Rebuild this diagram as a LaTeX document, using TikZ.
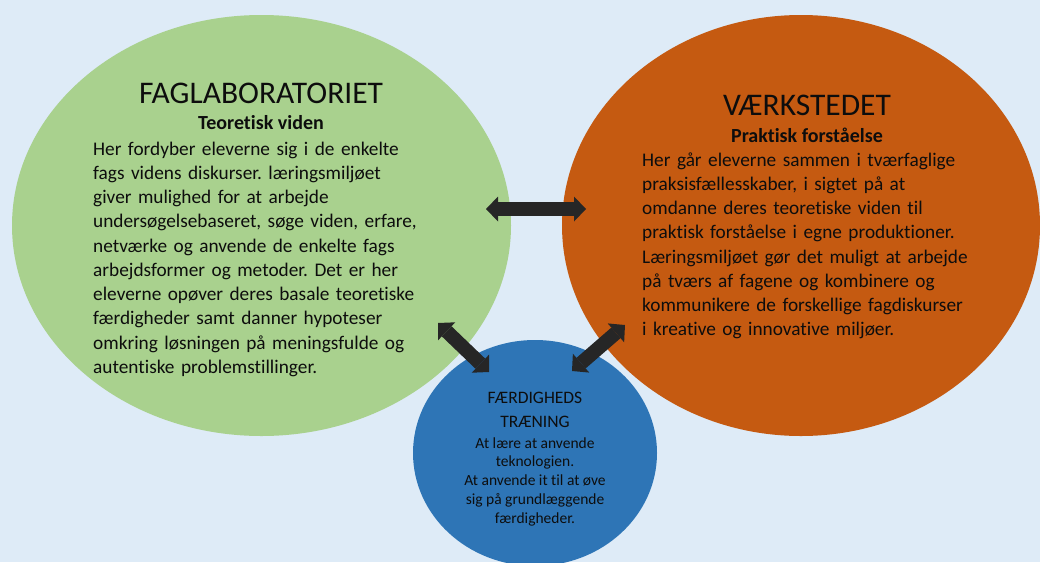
\documentclass[tikz,border=0pt]{standalone}
\usepackage{fontspec}
\setmainfont{Carlito}[Ligatures={NoCommon}]
\frenchspacing
\usetikzlibrary{shapes.geometric,arrows.meta}
\definecolor{bg}{HTML}{DEEBF7}
\definecolor{grn}{HTML}{A9D18E}
\definecolor{org}{HTML}{C55A11}
\definecolor{blu}{HTML}{2E75B6}
\definecolor{arr}{HTML}{262626}
\definecolor{ink}{HTML}{0D0D0D}
\begin{document}
\begin{tikzpicture}[x=1pt,y=-1pt,
  blob/.style={ellipse, inner sep=0pt, outer sep=0pt},
  bigtitle/.style={anchor=base, font=\fontsize{31.5}{36}\selectfont, text=ink, inner sep=0pt},
  subtitle/.style={anchor=base, font=\bfseries\fontsize{20}{24}\selectfont, text=ink, inner sep=0pt},
  bodytext/.style={anchor=base west, align=left, text width=400pt, font=\fontsize{19.3}{24.25}\selectfont, text=ink, inner sep=0pt},
  smalltitle/.style={anchor=base, font=\fontsize{17.5}{24}\selectfont, text=ink, inner sep=0pt},
  smallbody/.style={anchor=base, font=\fontsize{15.5}{18.75}\selectfont, text=ink, inner sep=0pt},
  dblarrow/.style={draw=arr, line width=14pt,
    {Triangle[length=12pt,width=25pt,line width=0pt]}-{Triangle[length=12pt,width=25pt,line width=0pt]}}
]
\useasboundingbox (0,0) rectangle (1040,562);
\clip (0,0) rectangle (1040,562);
\fill[bg] (0,0) rectangle (1040,562);

\node[blob, fill=grn, minimum width=499pt, minimum height=421pt] (lab) at (261.5,225.5) {};
\node[blob, fill=org, minimum width=478pt, minimum height=421pt] (vaerk) at (801,225.5) {};
\node[blob, fill=blu, minimum width=244pt, minimum height=226pt] (trae) at (535,453) {};

\node[bigtitle] (labtitle) at (261,103) {FAGLABORATORIET};
\node[subtitle] (labsub) at (261,129) {Teoretisk viden};
\node[bodytext] (labbody) at (93,155) {Her fordyber eleverne sig i de enkelte\\
fags videns diskurser. læringsmiljøet\\
giver mulighed for at arbejde\\
undersøgelsebaseret, søge viden, erfare,\\
netværke og anvende de enkelte fags\\
arbejdsformer og metoder. Det er her\\
eleverne opøver deres basale teoretiske\\
færdigheder samt danner hypoteser\\
omkring løsningen på meningsfulde og\\
autentiske problemstillinger.};

\node[bigtitle] (vaerktitle) at (807,115) {VÆRKSTEDET};
\node[subtitle] (vaerksub) at (807,142) {Praktisk forståelse};
\node[bodytext] (vaerkbody) at (642,166) {Her går eleverne sammen i tværfaglige\\
praksisfællesskaber, i sigtet på at\\
omdanne deres teoretiske viden til\\
praktisk forståelse i egne produktioner.\\
Læringsmiljøet gør det muligt at arbejde\\
på tværs af fagene og kombinere og\\
kommunikere de forskellige fagdiskurser\\
i kreative og innovative miljøer.};

\node[smalltitle] (traetitle) at (535,403) {\begin{tabular}[t]{@{}c@{}}FÆRDIGHEDS\\TRÆNING\end{tabular}};
\node[smallbody] (traebody) at (535,448) {\begin{tabular}[t]{@{}c@{}}At lære at anvende\\
teknologien.\\
At anvende it til at øve\\
sig på grundlæggende\\
færdigheder.\end{tabular}};

\coordinate (h1) at (486,209);
\coordinate (h2) at (586,209);
\coordinate (d1) at (438,323);
\coordinate (d2) at (489,372);
\coordinate (d3) at (625,325);
\coordinate (d4) at (572,371);
\draw[dblarrow] (h1) -- (h2);
\draw[dblarrow] (d1) -- (d2);
\draw[dblarrow] (d3) -- (d4);
\end{tikzpicture}
\end{document}
